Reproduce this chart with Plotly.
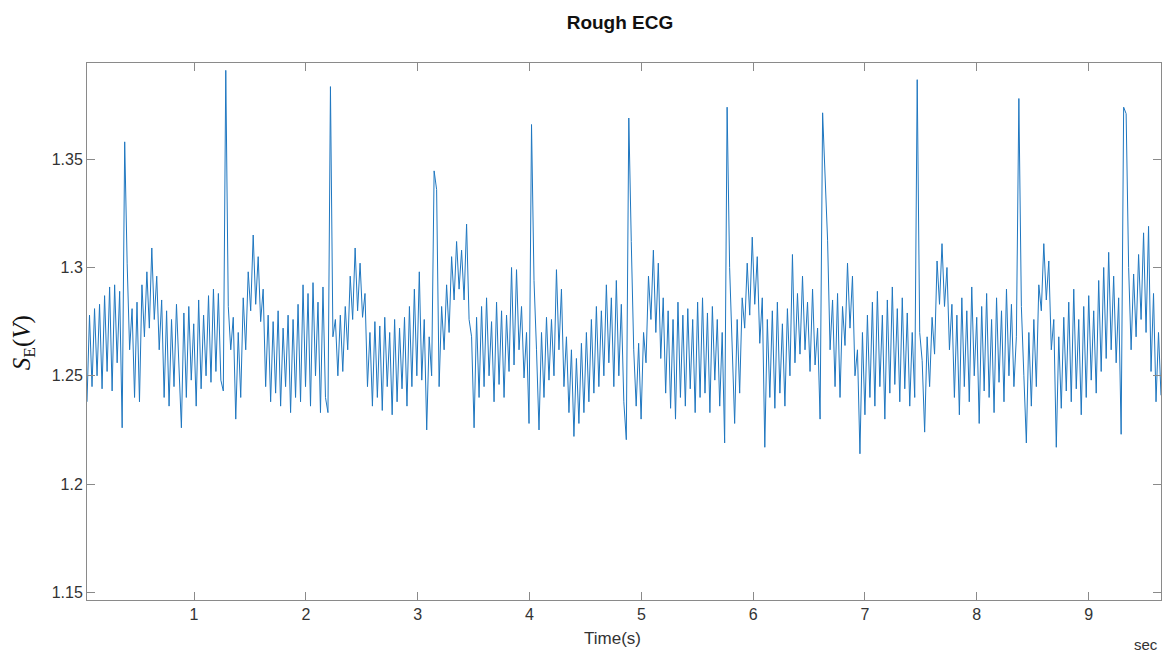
import numpy as np
import plotly.graph_objects as go

# R-peak times (s) – each segment below starts at its beat
beat_times = [0.043, 0.380, 1.284, 2.220, 3.147, 4.018, 4.888, 5.767, 6.621, 7.467, 8.376, 9.313]
t_end = 9.647

seg0 = [1.238, 1.278, 1.245, 1.281, 1.250, 1.283, 1.244, 1.287, 1.252, 1.291, 1.243, 1.292, 1.256, 1.289, 1.226]
seg1 = [1.358, 1.302, 1.262, 1.281, 1.240, 1.284, 1.238, 1.292, 1.268, 1.298, 1.272, 1.309, 1.276, 1.296,
        1.262, 1.285, 1.240, 1.280, 1.236, 1.276, 1.245, 1.283, 1.250, 1.226, 1.279, 1.240, 1.282, 1.248,
        1.274, 1.236, 1.285, 1.244, 1.278, 1.250, 1.287, 1.247, 1.290, 1.252, 1.288, 1.248, 1.243]
seg2 = [1.391, 1.282, 1.262, 1.277, 1.230, 1.270, 1.240, 1.286, 1.262, 1.298, 1.280, 1.315, 1.283, 1.305,
        1.275, 1.290, 1.245, 1.278, 1.238, 1.275, 1.242, 1.280, 1.236, 1.272, 1.245, 1.278, 1.233, 1.276,
        1.240, 1.283, 1.238, 1.292, 1.245, 1.288, 1.236, 1.293, 1.250, 1.284, 1.233, 1.291, 1.240, 1.233]
seg3 = [1.3835, 1.268, 1.276, 1.250, 1.278, 1.252, 1.282, 1.262, 1.296, 1.276, 1.309, 1.280, 1.302, 1.277,
        1.288, 1.245, 1.270, 1.236, 1.275, 1.240, 1.273, 1.234, 1.277, 1.245, 1.270, 1.232, 1.276, 1.238,
        1.272, 1.244, 1.277, 1.236, 1.282, 1.245, 1.290, 1.250, 1.298, 1.248, 1.276, 1.225, 1.268, 1.250]
seg4 = [1.3446, 1.336, 1.245, 1.282, 1.262, 1.292, 1.270, 1.305, 1.285, 1.312, 1.290, 1.308, 1.285, 1.320,
        1.276, 1.268, 1.226, 1.277, 1.240, 1.282, 1.245, 1.286, 1.250, 1.275, 1.238, 1.284, 1.246, 1.280,
        1.240, 1.278, 1.252, 1.300, 1.255, 1.299, 1.262, 1.282, 1.249, 1.270, 1.228]
seg5 = [1.366, 1.294, 1.262, 1.225, 1.270, 1.240, 1.277, 1.248, 1.276, 1.250, 1.299, 1.262, 1.290, 1.245,
        1.268, 1.233, 1.262, 1.222, 1.258, 1.228, 1.265, 1.233, 1.270, 1.238, 1.276, 1.242, 1.282, 1.245,
        1.280, 1.250, 1.292, 1.256, 1.286, 1.245, 1.294, 1.250, 1.283, 1.238, 1.2205]
seg6 = [1.369, 1.312, 1.262, 1.236, 1.265, 1.230, 1.270, 1.256, 1.296, 1.276, 1.308, 1.270, 1.302, 1.258,
        1.286, 1.242, 1.280, 1.235, 1.276, 1.230, 1.284, 1.240, 1.278, 1.236, 1.281, 1.244, 1.276, 1.233,
        1.284, 1.240, 1.286, 1.242, 1.279, 1.233, 1.282, 1.248, 1.276, 1.236, 1.270, 1.219]
seg7 = [1.374, 1.300, 1.262, 1.228, 1.276, 1.242, 1.286, 1.272, 1.302, 1.278, 1.314, 1.283, 1.305, 1.265,
        1.286, 1.217, 1.276, 1.240, 1.280, 1.235, 1.284, 1.242, 1.274, 1.236, 1.281, 1.250, 1.306, 1.256,
        1.288, 1.260, 1.296, 1.262, 1.284, 1.252, 1.290, 1.255, 1.272, 1.230]
seg8 = [1.3714, 1.3435, 1.3126, 1.262, 1.285, 1.245, 1.288, 1.240, 1.282, 1.264, 1.302, 1.272, 1.296, 1.250,
        1.262, 1.214, 1.270, 1.232, 1.278, 1.240, 1.284, 1.236, 1.289, 1.245, 1.278, 1.230, 1.285, 1.242,
        1.291, 1.246, 1.281, 1.238, 1.286, 1.244, 1.279, 1.236, 1.270, 1.240]
seg9 = [1.3867, 1.270, 1.257, 1.224, 1.268, 1.245, 1.277, 1.260, 1.303, 1.283, 1.311, 1.282, 1.300, 1.262,
        1.283, 1.240, 1.278, 1.232, 1.286, 1.245, 1.280, 1.238, 1.291, 1.250, 1.277, 1.228, 1.282, 1.243,
        1.288, 1.240, 1.276, 1.233, 1.286, 1.247, 1.280, 1.238, 1.290, 1.250, 1.283, 1.245, 1.268]
seg10 = [1.378, 1.282, 1.250, 1.219, 1.270, 1.236, 1.276, 1.245, 1.292, 1.280, 1.311, 1.285, 1.303, 1.262,
         1.276, 1.217, 1.268, 1.235, 1.277, 1.243, 1.284, 1.238, 1.290, 1.244, 1.276, 1.232, 1.282, 1.240,
         1.287, 1.248, 1.280, 1.242, 1.294, 1.252, 1.300, 1.258, 1.307, 1.262, 1.296, 1.256, 1.286, 1.223]
seg11 = [1.374, 1.371, 1.300, 1.262, 1.297, 1.268, 1.306, 1.276, 1.316, 1.270, 1.319, 1.252, 1.288, 1.238,
         1.270, 1.241]

segments = [seg0, seg1, seg2, seg3, seg4, seg5, seg6, seg7, seg8, seg9, seg10, seg11]

x_tick_vals = [1, 2, 3, 4, 5, 6, 7, 8, 9]
y_tick_vals = [1.15, 1.2, 1.25, 1.3, 1.35]
y_tick_text = ["1.15", "1.2", "1.25", "1.3", "1.35"]

# sample times: each segment's samples are spread evenly from its beat to the next
t_all, v_all = [], []
bounds = beat_times + [t_end]
for k, seg in enumerate(segments):
    last = k == len(segments) - 1
    ts = np.linspace(bounds[k], bounds[k + 1], len(seg), endpoint=last)
    t_all.extend(ts.tolist())
    v_all.extend(seg)

fig = go.Figure()
fig.add_trace(go.Scatter(x=t_all, y=v_all, mode="lines",
                         line=dict(color="#1f77c0", width=1), hoverinfo="skip"))

axis_col = "#8a8a8a"
tick_font = dict(family="Liberation Sans, Arial, sans-serif", size=16, color="#333333")

fig.update_layout(
    width=1166, height=655,
    margin=dict(l=87, r=5, t=63, b=55),
    paper_bgcolor="white", plot_bgcolor="white",
    showlegend=False,
    title=dict(text="<b>Rough ECG</b>", x=0.5317, xanchor="center", y=0.966, yanchor="middle",
               font=dict(family="Liberation Sans, Arial, sans-serif", size=19, color="#111111")),
    xaxis=dict(range=[0.043, 9.647], tickvals=x_tick_vals, ticks="inside", ticklen=8,
               tickcolor=axis_col, showline=True, linecolor=axis_col, linewidth=1, mirror="ticks",
               showgrid=False, zeroline=False, tickfont=tick_font),
    yaxis=dict(range=[1.1465, 1.3944], tickvals=y_tick_vals, ticktext=y_tick_text, ticks="inside",
               ticklen=8, tickcolor=axis_col, showline=True, linecolor=axis_col, linewidth=1,
               mirror="ticks", showgrid=False, zeroline=False, tickfont=tick_font),
    annotations=[
        dict(text="Time(s)", xref="paper", yref="paper", x=0.489, y=-0.072, xanchor="center",
             yanchor="middle", showarrow=False,
             font=dict(family="Liberation Sans, Arial, sans-serif", size=17, color="#333333")),
        dict(text="sec", xref="paper", yref="paper", x=0.986, y=-0.083, xanchor="center",
             yanchor="middle", showarrow=False,
             font=dict(family="Liberation Sans, Arial, sans-serif", size=15, color="#333333")),
        dict(text="<i>S</i><sub>E</sub>(<i>V</i>)", xref="paper", yref="paper", x=-0.0596, y=0.48,
             xanchor="center", yanchor="middle", textangle=-90, showarrow=False,
             font=dict(family="Liberation Serif, Times New Roman, serif", size=25, color="#111111")),
    ],
)

fig.write_html("out.html", config={"displayModeBar": False},
               post_script="document.body.style.margin='0';")
